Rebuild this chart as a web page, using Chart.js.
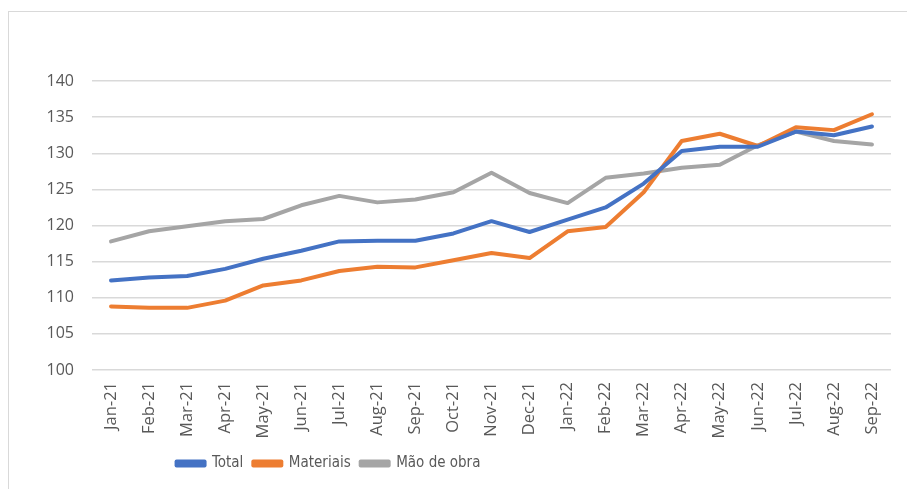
<!DOCTYPE html>
<html>
<head>
<meta charset="utf-8">
<script src="https://cdn.jsdelivr.net/npm/chart.js@4/dist/chart.umd.min.js"></script>
<style>
  body { margin: 0; background: #fff; }
  #wrap { position: relative; width: 907px; height: 489px; overflow: hidden; }
  #frame { position: absolute; left: 8px; top: 11px; width: 920px; height: 500px; border: 1px solid #d9d9d9; box-sizing: border-box; }
  canvas { position: absolute; left: 0; top: 0; }
</style>
</head>
<body>
<div id="wrap">
  <div id="frame"></div>
  <canvas id="chart" width="907" height="489"></canvas>
</div>
<script>
const months = ['Jan-21', 'Feb-21', 'Mar-21', 'Apr-21', 'May-21', 'Jun-21', 'Jul-21', 'Aug-21', 'Sep-21', 'Oct-21', 'Nov-21', 'Dec-21',
  'Jan-22', 'Feb-22', 'Mar-22', 'Apr-22', 'May-22', 'Jun-22', 'Jul-22', 'Aug-22', 'Sep-22'];

const total = [112.4, 112.8, 113.0, 114.0, 115.4, 116.5, 117.8, 117.9, 117.9, 118.9, 120.6, 119.1,
  120.8, 122.5, 125.8, 130.3, 130.9, 130.9, 133.0, 132.5, 133.7];
const materiais = [108.8, 108.6, 108.6, 109.6, 111.7, 112.4, 113.7, 114.3, 114.2, 115.2, 116.2, 115.5,
  119.2, 119.8, 124.6, 131.7, 132.7, 131.0, 133.6, 133.2, 135.4];
const maoDeObra = [117.8, 119.2, 119.9, 120.6, 120.9, 122.8, 124.1, 123.2, 123.6, 124.6, 127.3, 124.5,
  123.1, 126.6, 127.2, 128.0, 128.4, 131.1, 133.0, 131.7, 131.2];

const yMin = 100, yMax = 140, yStep = 5;

const textColor = '#595959';
const gridColor = '#d9d9d9';

function line(label, data, color) {
  return {
    label: label,
    data: data,
    borderColor: color,
    backgroundColor: color,
    borderWidth: 4,
    pointRadius: 0,
    tension: 0,
    borderJoinStyle: 'round',
    borderCapStyle: 'round'
  };
}

// the legend in the original sits left of the plot centre
const legendShift = {
  id: 'legendShift',
  afterLayout(chart) {
    const lg = chart.legend;
    lg.left -= 121;
    lg.right -= 121;
  }
};

new Chart(document.getElementById('chart'), {
  type: 'line',
  data: {
    labels: months,
    datasets: [
      line('Total', total, '#4472C4'),
      line('Materiais', materiais, '#ED7D31'),
      line('Mão de obra', maoDeObra, '#A5A5A5')
    ]
  },
  plugins: [legendShift],
  options: {
    responsive: false,
    animation: false,
    layout: { padding: { left: 8, top: 81, right: 16, bottom: 8 } },
    plugins: {
      legend: {
        position: 'bottom',
        labels: {
          color: textColor,
          font: { family: '"DejaVu Sans Condensed", Roboto, sans-serif', size: 15 },
          boxWidth: 28,
          boxHeight: 4,
          padding: 10
        }
      },
      tooltip: { enabled: false }
    },
    scales: {
      x: {
        offset: true,
        grid: { display: false, drawTicks: false },
        border: { display: false },
        ticks: {
          color: textColor,
          font: { family: '"Open Sans", sans-serif', size: 16.5 },
          minRotation: 90,
          maxRotation: 90,
          padding: 12
        },
        afterFit: function (s) { s.height = 76; }
      },
      y: {
        min: yMin,
        max: yMax,
        grid: { color: gridColor, lineWidth: 1.5, drawTicks: false },
        border: { display: false },
        ticks: {
          stepSize: yStep,
          color: textColor,
          font: { family: '"Open Sans", sans-serif', size: 16 },
          padding: 18
        },
        afterFit: function (s) { s.width = 84; }
      }
    }
  }
});
</script>
</body>
</html>
